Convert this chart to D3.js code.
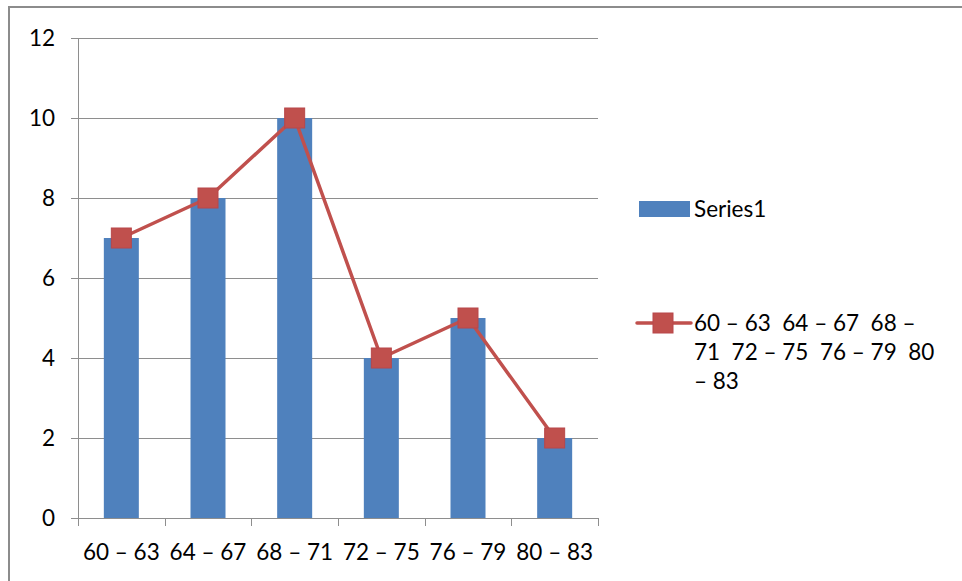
<!DOCTYPE html>
<html>
<head>
<meta charset="utf-8">
<script src="https://cdn.jsdelivr.net/npm/d3@7"></script>
<style>
  html, body { margin: 0; padding: 0; background: #fff; }
  svg { display: block; }
  text { font-family: Lato, "Open Sans", sans-serif; fill: #000; }
</style>
</head>
<body>
<svg id="chart" width="962" height="581"></svg>
<script>
// Height classes and their frequencies
const categories = ["60 – 63", "64 – 67", "68 – 71", "72 – 75", "76 – 79", "80 – 83"];
const barValues = [7, 8, 10, 4, 5, 2];
const lineValues = [7, 8, 10, 4, 5, 2];
const yTicks = [0, 2, 4, 6, 8, 10, 12];
const barName = "Series1";
const lineNameLines = ["60 – 63  64 – 67  68 –", "71  72 – 75  76 – 79  80", "– 83"];

const FS = 22.5;
const svg = d3.select("#chart");
const W = 962, H = 581;
const plot = { left: 78, right: 598, top: 38, bottom: 518 };

// chart frame
svg.append("path")
  .attr("d", `M9,${H} L9,7 L${W},7`)
  .attr("fill", "none")
  .attr("stroke", "#8c8c8c")
  .attr("stroke-width", 2);

const xBand = d3.scaleBand().domain(categories).range([plot.left, plot.right]);
const y = d3.scaleLinear().domain([0, 12]).range([plot.bottom, plot.top]);
const cx = d => xBand(d) + xBand.bandwidth() / 2;

// gridlines
svg.append("g")
  .selectAll("line")
  .data(yTicks.filter(d => d > 0))
  .join("line")
  .attr("x1", plot.left).attr("x2", plot.right)
  .attr("y1", d => Math.round(y(d)) + 0.5).attr("y2", d => Math.round(y(d)) + 0.5)
  .attr("stroke", "#8e8e8e").attr("stroke-width", 1);

// bars
svg.append("g")
  .selectAll("rect")
  .data(categories)
  .join("rect")
  .attr("x", d => cx(d) - 17.5)
  .attr("width", 35)
  .attr("y", (d, i) => y(barValues[i]))
  .attr("height", (d, i) => y(0) - y(barValues[i]))
  .attr("fill", "#4f81bd");

// y axis
const yAxis = svg.append("g")
  .attr("transform", `translate(${plot.left},0)`)
  .call(d3.axisLeft(y).tickValues(yTicks).tickSize(7).tickPadding(16).tickFormat(d3.format("d")));
yAxis.select(".domain").attr("stroke", "#8e8e8e").attr("d", `M0.5,${plot.top}V${plot.bottom}`);
yAxis.selectAll(".tick line").attr("stroke", "#8e8e8e");
yAxis.selectAll(".tick text").attr("font-size", FS).attr("font-family", "Lato, sans-serif").attr("fill", "#000");

// x axis with tick marks on category boundaries
const xAxisG = svg.append("g").attr("transform", `translate(0,${plot.bottom})`);
xAxisG.append("line")
  .attr("x1", plot.left - 7).attr("x2", plot.right)
  .attr("y1", 0.5).attr("y2", 0.5)
  .attr("stroke", "#8e8e8e");
const bounds = categories.map(c => xBand(c)).concat([plot.right]);
xAxisG.selectAll("line.tk")
  .data(bounds)
  .join("line")
  .attr("class", "tk")
  .attr("x1", d => Math.round(d) + 0.5).attr("x2", d => Math.round(d) + 0.5)
  .attr("y1", 0).attr("y2", 8)
  .attr("stroke", "#8e8e8e");
xAxisG.selectAll("text")
  .data(categories)
  .join("text")
  .attr("x", d => cx(d))
  .attr("y", 42)
  .attr("text-anchor", "middle")
  .attr("font-size", FS)
  .text(d => d);

// line series
const line = d3.line().x((d, i) => cx(categories[i])).y(d => y(d));
svg.append("path")
  .datum(lineValues)
  .attr("d", line)
  .attr("fill", "none")
  .attr("stroke", "#c0504d")
  .attr("stroke-width", 3.5)
  .attr("stroke-linejoin", "round");
svg.append("g")
  .selectAll("rect")
  .data(lineValues)
  .join("rect")
  .attr("x", (d, i) => cx(categories[i]) - 10)
  .attr("y", d => y(d) - 10)
  .attr("width", 20).attr("height", 20)
  .attr("fill", "#c0504d")
  .attr("stroke", "#b8474a")
  .attr("stroke-width", 1);

// legend
const lg = svg.append("g");
lg.append("rect").attr("x", 639).attr("y", 201).attr("width", 51).attr("height", 16).attr("fill", "#4f81bd");
lg.append("text").attr("x", 694).attr("y", 217).attr("font-size", FS).text(barName);

lg.append("line").attr("x1", 637).attr("x2", 691).attr("y1", 323).attr("y2", 323)
  .attr("stroke", "#c0504d").attr("stroke-width", 3.5).attr("stroke-linecap", "round");
lg.append("rect").attr("x", 653).attr("y", 313).attr("width", 20).attr("height", 20)
  .attr("fill", "#c0504d").attr("stroke", "#b8474a");
lg.selectAll("text.l2")
  .data(lineNameLines)
  .join("text")
  .attr("class", "l2")
  .attr("x", 694)
  .attr("y", (d, i) => 331 + i * 29)
  .attr("font-size", FS)
  .style("white-space", "pre")
  .text(d => d);
</script>
</body>
</html>
